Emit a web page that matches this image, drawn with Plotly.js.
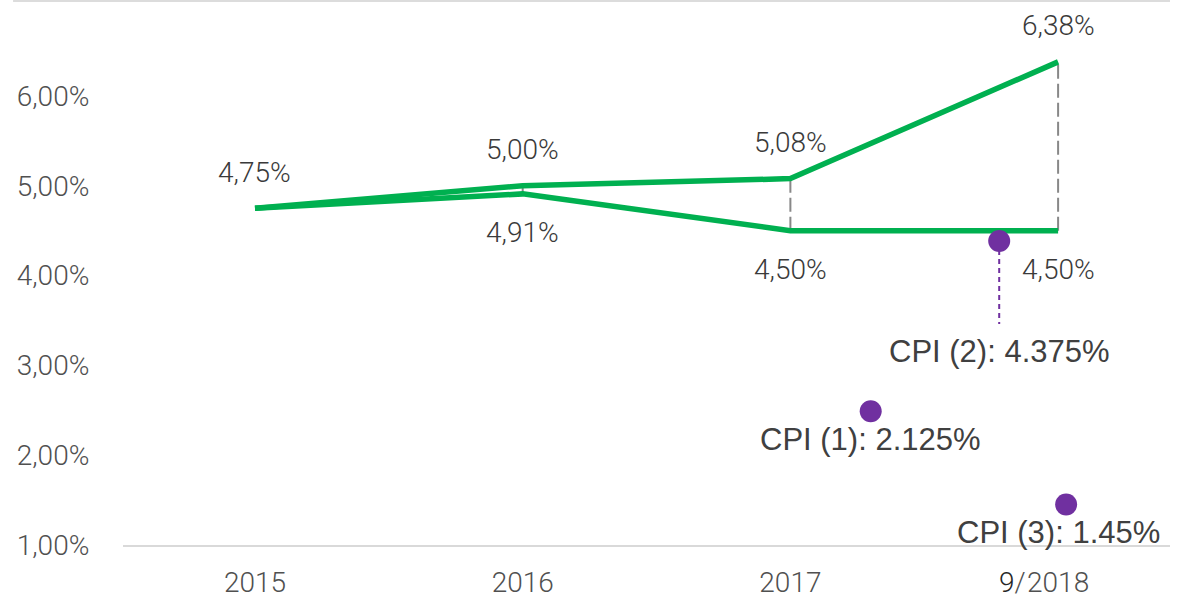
<!DOCTYPE html>
<html>
<head>
<meta charset="utf-8">
<script src="https://cdn.plot.ly/plotly-3.0.1.min.js"></script>
<style>html,body{margin:0;padding:0;background:#fff;}#chart{width:1185px;height:600px;}</style>
</head>
<body>
<div id="chart"></div>
<script>
// ---- data ----
const categories = ['2015', '2016', '2017', '2018'];
const catX = [0, 1, 2, 3];
const upperRate = [4.75, 5.00, 5.08, 6.38];
const lowerRate = [4.75, 4.91, 4.50, 4.50];
const upperLabels = ['4,75%', '5,00%', '5,08%', '6,38%'];
const lowerLabels = [null, '4,91%', '4,50%', '4,50%'];
const yTicks = [1, 2, 3, 4, 5, 6];
const yTickLabels = ['1,00%', '2,00%', '3,00%', '4,00%', '5,00%', '6,00%'];
const cpiX = [2.30, 2.78, 3.03];
const cpiY = [2.49, 4.385, 1.45];
const cpiLabels = ['CPI (1): 2.125%', 'CPI (2): 4.375%', 'CPI (3): 1.45%'];
const cpi2LeaderEnd = 3.46;
const lastTickPrefix = '9/';

// ---- styles ----
const green = '#00b050';
const purple = '#7030a0';
const axisFont = {family: 'Roboto, "Liberation Sans", sans-serif', size: 28, color: '#505050', weight: 300};
const valueFont = {family: 'Roboto, "Liberation Sans", sans-serif', size: 28, color: '#3a3a3a', weight: 300};
const cpiFont = {family: '"Liberation Sans", Arial, sans-serif', size: 31, color: '#404040'};

// connector dashed lines between the two series
const connX = [], connY = [];
for (let i = 1; i < catX.length; i++) {
  connX.push(catX[i], catX[i], null);
  connY.push(lowerRate[i], upperRate[i], null);
}

const traces = [
  {x: connX, y: connY, mode: 'lines', line: {color: '#888888', width: 2, dash: '14px,5px'}, hoverinfo: 'skip'},
  {x: [cpiX[1], cpiX[1]], y: [cpiY[1], cpi2LeaderEnd], mode: 'lines', line: {color: purple, width: 2, dash: '5px,4px'}, hoverinfo: 'skip'},
  {x: catX, y: upperRate, mode: 'lines', line: {color: green, width: 5.5}},
  {x: catX, y: lowerRate, mode: 'lines', line: {color: green, width: 5.5}},
  {x: cpiX, y: cpiY, mode: 'markers', marker: {color: purple, size: 22}}
];

const annotations = [];
catX.forEach((x, i) => {
  if (upperLabels[i]) annotations.push({x: x, y: upperRate[i], text: upperLabels[i], showarrow: false, yanchor: 'middle', yshift: 36, font: valueFont});
  if (lowerLabels[i]) annotations.push({x: x, y: lowerRate[i], text: lowerLabels[i], showarrow: false, yanchor: 'middle', yshift: -39, font: valueFont});
});
const cpiShift = [[0, -28], [0, -110], [-8, -28]];
cpiX.forEach((x, i) => {
  annotations.push({x: x, y: cpiY[i], text: cpiLabels[i], showarrow: false, yanchor: 'middle', xshift: cpiShift[i][0], yshift: cpiShift[i][1], font: cpiFont});
});
annotations.push({x: catX[3], y: yTicks[0], xref: 'x', yref: 'y', text: '<span style="color:#262626">' + lastTickPrefix[0] + '</span>' + lastTickPrefix.slice(1),
  showarrow: false, xanchor: 'right', yanchor: 'middle', xshift: -30, yshift: -37, font: axisFont});

const layout = {
  width: 1185, height: 600,
  margin: {l: 123, r: 15, t: 1, b: 55},
  paper_bgcolor: '#ffffff', plot_bgcolor: '#ffffff',
  showlegend: false,
  xaxis: {
    range: [-0.493, 3.418], tickvals: catX, ticktext: categories,
    showgrid: false, zeroline: false, showline: true, linecolor: '#d9d9d9', linewidth: 1.5,
    ticks: 'outside', ticklen: 12, tickcolor: 'rgba(0,0,0,0)', tickfont: axisFont
  },
  yaxis: {
    range: [1, 1 + 544 / 89.8], tickvals: yTicks, ticktext: yTickLabels,
    showgrid: false, zeroline: false, showline: false,
    ticks: 'outside', ticklen: 27, tickcolor: 'rgba(0,0,0,0)', tickfont: axisFont
  },
  shapes: [
    {type: 'line', xref: 'paper', yref: 'paper', x0: -0.105, x1: 1, y0: 1, y1: 1, line: {color: '#d0d0d0', width: 1.5}}
  ],
  annotations: annotations
};

Plotly.newPlot('chart', traces, layout, {displayModeBar: false, staticPlot: true});
</script>
</body>
</html>
